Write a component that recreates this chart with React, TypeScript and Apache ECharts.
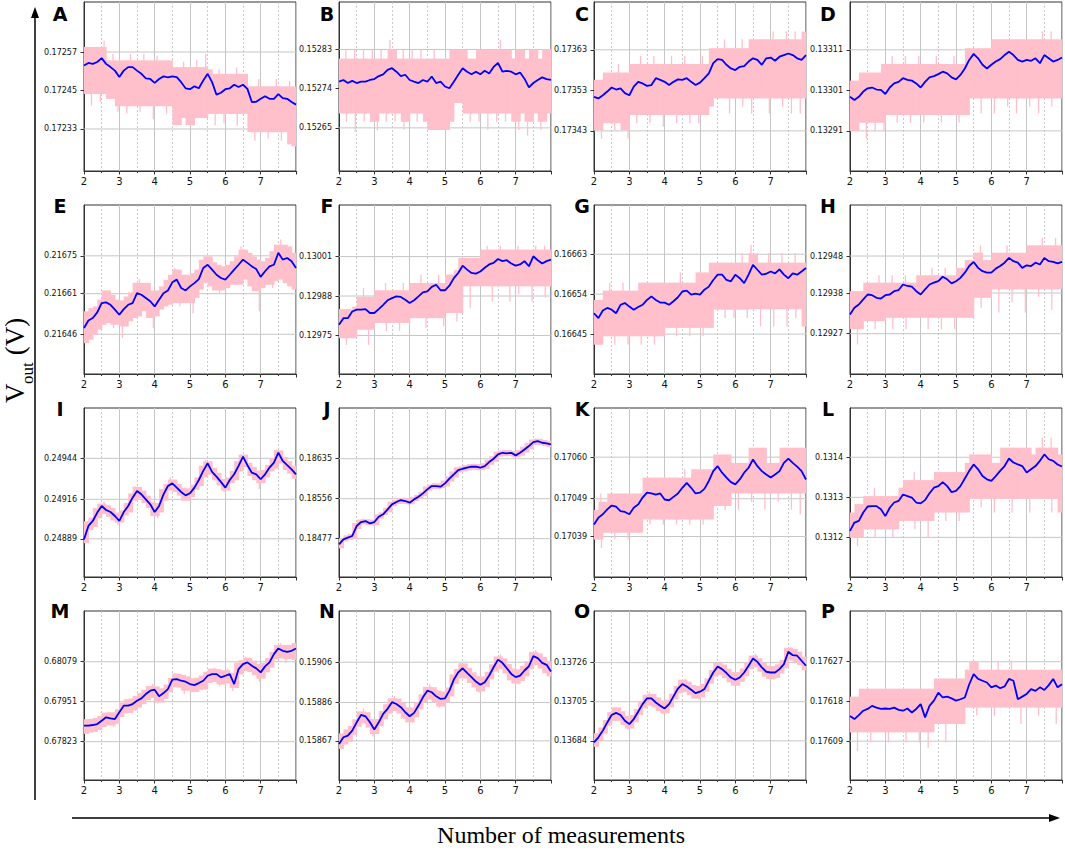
import React, { useEffect, useRef } from "react";
import * as echarts from "echarts";

const X = [2,2.125,2.25,2.375,2.5,2.625,2.75,2.875,3,3.125,3.25,3.375,3.5,3.625,3.75,3.875,4,4.125,4.25,4.375,4.5,4.625,4.75,4.875,5,5.125,5.25,5.375,5.5,5.625,5.75,5.875,6,6.125,6.25,6.375,6.5,6.625,6.75,6.875,7,7.125,7.25,7.375,7.5,7.625,7.75,7.875,8];
const X_TICK_LABELS = ["2", "3", "4", "5", "6", "7"];

const A_TICKS = [0.17233, 0.17245, 0.17257];
const A_LABELS = ["0.17233", "0.17245", "0.17257"];
const A_RANGE = [0.172199, 0.172726];
const A_BLUE = [0.172528,0.172536,0.172533,0.172539,0.172551,0.172533,0.172523,0.172512,0.172492,0.172512,0.172523,0.172523,0.172512,0.172502,0.172488,0.172486,0.172474,0.172486,0.172494,0.172491,0.172494,0.172492,0.172476,0.172457,0.172454,0.172463,0.172457,0.172481,0.172502,0.172476,0.172437,0.172443,0.172454,0.172457,0.172468,0.172461,0.172468,0.172455,0.172414,0.172415,0.172424,0.172432,0.172424,0.172424,0.172439,0.172426,0.172424,0.172414,0.172406];
const A_HI = [0.172586,0.172586,0.172586,0.172586,0.172606,0.172544,0.172564,0.172544,0.172544,0.172544,0.172564,0.172544,0.172544,0.172564,0.172544,0.172544,0.172558,0.172544,0.172544,0.172544,0.172523,0.172523,0.17254,0.172523,0.172523,0.172546,0.172523,0.172564,0.172516,0.172502,0.172516,0.172502,0.172502,0.172502,0.172522,0.172502,0.172502,0.172463,0.172463,0.172486,0.172463,0.172463,0.172463,0.172486,0.172463,0.172463,0.17248,0.172463];
const A_LO = [0.172439,0.172403,0.172439,0.172414,0.172439,0.172424,0.172424,0.172384,0.172401,0.172378,0.172401,0.172401,0.172384,0.172401,0.172401,0.17236,0.172401,0.172401,0.172378,0.172401,0.172342,0.172342,0.172364,0.172342,0.17234,0.172364,0.172364,0.172364,0.172377,0.172342,0.172377,0.172348,0.172377,0.172377,0.17234,0.172377,0.172377,0.17232,0.172294,0.17232,0.17232,0.1723,0.17232,0.17232,0.172294,0.17232,0.172282,0.172276];

const B_TICKS = [0.15265, 0.15274, 0.15283];
const B_LABELS = ["0.15265", "0.15274", "0.15283"];
const B_RANGE = [0.152551, 0.152939];
const B_BLUE = [0.152756,0.15276,0.152753,0.152758,0.152753,0.152756,0.152756,0.15276,0.152762,0.152769,0.152773,0.152783,0.152787,0.152779,0.152769,0.152772,0.15276,0.152756,0.152753,0.15276,0.152756,0.152768,0.152753,0.152756,0.152745,0.152741,0.152756,0.152772,0.152787,0.152779,0.152773,0.152779,0.152773,0.152781,0.152775,0.15279,0.152799,0.152779,0.152781,0.152779,0.152773,0.152777,0.152763,0.152743,0.152753,0.15276,0.152766,0.152762,0.15276];
const B_HI = [0.152809,0.15283,0.152809,0.15283,0.152809,0.15283,0.152809,0.15283,0.152809,0.15283,0.152809,0.152852,0.15283,0.152809,0.15283,0.152809,0.15283,0.152809,0.15283,0.152809,0.152809,0.15283,0.152809,0.152809,0.152809,0.15283,0.15283,0.15283,0.15283,0.152809,0.152809,0.15283,0.15283,0.15283,0.15283,0.15283,0.152852,0.15283,0.15283,0.152809,0.15283,0.15283,0.152809,0.15283,0.15283,0.152809,0.15283,0.15283];
const B_LO = [0.152683,0.152664,0.152683,0.152641,0.152683,0.152664,0.152683,0.152664,0.152645,0.152683,0.152664,0.152683,0.152664,0.152683,0.152645,0.152664,0.152683,0.152664,0.152683,0.152664,0.152645,0.152645,0.152645,0.152645,0.152645,0.152664,0.152707,0.152707,0.152683,0.152664,0.152683,0.152664,0.152683,0.152645,0.152683,0.152664,0.152683,0.152664,0.152683,0.152664,0.152645,0.152683,0.152632,0.152664,0.152683,0.152645,0.152664,0.152683];

const C_TICKS = [0.17343, 0.17353, 0.17363];
const C_LABELS = ["0.17343", "0.17353", "0.17363"];
const C_RANGE = [0.173331, 0.173748];
const C_BLUE = [0.173514,0.17351,0.173518,0.173527,0.173537,0.173532,0.173535,0.173523,0.173518,0.173539,0.173551,0.173547,0.173541,0.173543,0.17356,0.173556,0.173551,0.173543,0.173551,0.173557,0.173556,0.17356,0.173551,0.173543,0.173549,0.17356,0.173572,0.173597,0.173607,0.173605,0.173593,0.173584,0.17358,0.173588,0.17359,0.173601,0.173609,0.173605,0.173593,0.173609,0.173611,0.173603,0.173613,0.173617,0.173621,0.173617,0.173609,0.173605,0.173617];
const C_HI = [0.173556,0.173556,0.173574,0.173574,0.173574,0.173595,0.173574,0.173574,0.173595,0.173595,0.173615,0.173595,0.173595,0.173615,0.173595,0.173595,0.173595,0.173615,0.173595,0.173595,0.173615,0.173595,0.173595,0.173595,0.173615,0.173595,0.173634,0.173634,0.173634,0.173656,0.173634,0.173634,0.173634,0.173656,0.173634,0.173656,0.173656,0.173656,0.173656,0.173656,0.173675,0.173656,0.173656,0.173675,0.173656,0.173675,0.173656,0.173675];
const C_LO = [0.173432,0.173411,0.173449,0.173449,0.173432,0.173449,0.173432,0.173411,0.173469,0.173449,0.173469,0.173469,0.173449,0.173469,0.173469,0.17344,0.173469,0.173469,0.173449,0.173469,0.173469,0.173449,0.173469,0.173449,0.173469,0.173469,0.17349,0.17351,0.17351,0.17351,0.173473,0.17351,0.17351,0.17349,0.17351,0.173473,0.17351,0.17351,0.17351,0.173473,0.17351,0.17351,0.17349,0.17351,0.173473,0.17351,0.173473,0.17351];

const D_TICKS = [0.13291, 0.13301, 0.13311];
const D_LABELS = ["0.13291", "0.13301", "0.13311"];
const D_RANGE = [0.132811, 0.133228];
const D_BLUE = [0.132994,0.132986,0.132994,0.133007,0.133015,0.133017,0.133012,0.133011,0.133001,0.133017,0.133027,0.133031,0.13304,0.133036,0.133034,0.133027,0.133017,0.133031,0.133042,0.133045,0.13305,0.133056,0.133052,0.133042,0.133037,0.133048,0.133064,0.133085,0.1331,0.133089,0.133073,0.133064,0.133073,0.133081,0.133087,0.133097,0.133105,0.133097,0.133085,0.133081,0.133085,0.133083,0.133089,0.133077,0.133097,0.133089,0.133081,0.133085,0.133091];
const D_HI = [0.133034,0.133034,0.133054,0.133054,0.133054,0.133054,0.133054,0.133075,0.133075,0.133095,0.133075,0.133075,0.133095,0.133075,0.133075,0.133095,0.133075,0.133075,0.133075,0.133095,0.133075,0.133075,0.133075,0.133095,0.133075,0.133075,0.133114,0.133114,0.133114,0.133114,0.133114,0.133114,0.133136,0.133136,0.133136,0.133136,0.133136,0.133136,0.133136,0.133136,0.133136,0.133136,0.133136,0.133155,0.133136,0.133155,0.133136,0.133136];
const D_LO = [0.13291,0.13291,0.13293,0.132891,0.13293,0.13291,0.13293,0.13291,0.132949,0.132949,0.13293,0.132949,0.132949,0.13293,0.132949,0.132949,0.13293,0.132949,0.132949,0.132949,0.13293,0.132949,0.132949,0.132949,0.13293,0.132949,0.132949,0.13299,0.13299,0.132953,0.13299,0.13299,0.132953,0.13299,0.13299,0.13297,0.13299,0.132953,0.13299,0.13299,0.13297,0.13299,0.132953,0.13299,0.13299,0.13297,0.13299,0.13299];

const E_TICKS = [0.21646, 0.21661, 0.21675];
const E_LABELS = ["0.21646", "0.21661", "0.21675"];
const E_RANGE = [0.216313, 0.216938];
const E_BLUE = [0.216483,0.216511,0.21652,0.216541,0.216575,0.216578,0.216569,0.216551,0.216532,0.216553,0.216569,0.216575,0.216612,0.216606,0.216594,0.216582,0.216563,0.216588,0.216612,0.216622,0.216652,0.216662,0.216631,0.216622,0.216637,0.216649,0.216664,0.216705,0.216717,0.216699,0.21668,0.216668,0.216662,0.21668,0.216699,0.216717,0.216736,0.216724,0.216711,0.216701,0.216672,0.216693,0.216711,0.216717,0.216761,0.216736,0.216742,0.21673,0.216705];
const E_HI = [0.216545,0.216557,0.216563,0.216588,0.216622,0.216622,0.216606,0.216588,0.216585,0.2166,0.216615,0.21665,0.216664,0.21665,0.21665,0.216622,0.216622,0.216637,0.216661,0.21668,0.216705,0.216699,0.21668,0.21668,0.216686,0.216699,0.216736,0.216748,0.216748,0.216726,0.216717,0.216711,0.216717,0.21673,0.216748,0.216785,0.216773,0.216761,0.216748,0.216736,0.21673,0.216742,0.216767,0.216791,0.21681,0.216791,0.216785,0.216761];
const E_LO = [0.216427,0.21644,0.216458,0.216477,0.216495,0.216501,0.216483,0.216495,0.216446,0.216489,0.216508,0.21652,0.216526,0.216545,0.21652,0.216483,0.216526,0.216551,0.216563,0.216569,0.216575,0.216563,0.216575,0.216575,0.216538,0.216594,0.216625,0.216649,0.216637,0.216622,0.216612,0.216622,0.216631,0.216643,0.216643,0.216643,0.216662,0.216637,0.216619,0.216545,0.216631,0.216643,0.216631,0.216656,0.216662,0.216649,0.216637,0.216625];

const F_TICKS = [0.12975, 0.12988, 0.13001];
const F_LABELS = ["0.12975", "0.12988", "0.13001"];
const F_RANGE = [0.129623, 0.13018];
const F_BLUE = [0.129785,0.129807,0.129807,0.129829,0.129835,0.129835,0.129837,0.129824,0.129824,0.129837,0.129851,0.129866,0.129873,0.129879,0.129877,0.129868,0.129857,0.129866,0.129879,0.129892,0.129895,0.12991,0.129917,0.129899,0.129899,0.129914,0.129939,0.129956,0.12998,0.129967,0.129956,0.129954,0.129961,0.129973,0.129984,0.129989,0.130002,0.129995,0.129998,0.129987,0.12998,0.129984,0.129995,0.129978,0.130011,0.129998,0.129987,0.129995,0.13];
const F_HI = [0.129837,0.129837,0.129837,0.129845,0.129877,0.129906,0.129877,0.129877,0.129899,0.129899,0.129923,0.129899,0.129899,0.129899,0.129923,0.129899,0.129923,0.129923,0.129951,0.129923,0.129923,0.129923,0.129951,0.129923,0.129951,0.129951,0.129965,0.130006,0.130006,0.130006,0.130006,0.130006,0.130033,0.130046,0.130033,0.130033,0.130046,0.130033,0.130033,0.130033,0.130046,0.130033,0.130033,0.130033,0.130046,0.130033,0.130046,0.130033];
const F_LO = [0.129741,0.129719,0.129741,0.129741,0.129769,0.129769,0.129719,0.129769,0.129791,0.129791,0.129765,0.129791,0.129791,0.129765,0.129791,0.129791,0.129807,0.129807,0.129807,0.129775,0.129807,0.129807,0.129807,0.12978,0.129824,0.129824,0.129795,0.129824,0.129912,0.12984,0.129912,0.129912,0.129912,0.129912,0.129862,0.129912,0.129912,0.129912,0.129862,0.129912,0.129885,0.129912,0.129912,0.129862,0.129912,0.129912,0.129875,0.129912];

const G_TICKS = [0.16645, 0.16654, 0.16663];
const G_LABELS = ["0.16645", "0.16654", "0.16663"];
const G_RANGE = [0.16636, 0.166741];
const G_BLUE = [0.166497,0.166486,0.166503,0.166509,0.166505,0.166497,0.166516,0.16652,0.166512,0.166505,0.166511,0.166516,0.166527,0.166535,0.166527,0.166521,0.166521,0.166516,0.166524,0.166533,0.166546,0.166548,0.166539,0.166541,0.166539,0.16655,0.166557,0.166572,0.166584,0.166584,0.166572,0.166569,0.166584,0.166576,0.166565,0.166584,0.166606,0.166595,0.166584,0.166586,0.166591,0.166587,0.166596,0.166584,0.166576,0.166587,0.166584,0.166591,0.166599];
const G_HI = [0.166527,0.166527,0.166548,0.166566,0.166548,0.166548,0.166566,0.166548,0.166548,0.166548,0.166566,0.166566,0.166566,0.166566,0.166566,0.166566,0.166566,0.166566,0.166566,0.166589,0.166566,0.166566,0.166566,0.166589,0.166589,0.166589,0.166611,0.166611,0.166611,0.166611,0.166611,0.166611,0.166611,0.166632,0.166611,0.166651,0.166632,0.166611,0.166611,0.166632,0.166611,0.166611,0.166632,0.166611,0.166611,0.166632,0.166611,0.166611];
const G_LO = [0.166426,0.166426,0.166445,0.166445,0.166426,0.166445,0.166445,0.166426,0.166445,0.166445,0.166426,0.166445,0.166445,0.166426,0.166445,0.166445,0.166464,0.166464,0.166445,0.166464,0.166464,0.166445,0.166464,0.166464,0.166445,0.166464,0.166464,0.166505,0.166505,0.166486,0.166505,0.166486,0.166505,0.166505,0.166486,0.166506,0.166506,0.166467,0.166506,0.166506,0.166467,0.166506,0.166506,0.166467,0.166506,0.166486,0.166506,0.166467];

const H_TICKS = [0.12927, 0.12938, 0.12948];
const H_LABELS = ["0.12927", "0.12938", "0.12948"];
const H_RANGE = [0.129161, 0.129618];
const H_BLUE = [0.129322,0.12934,0.129349,0.129363,0.129376,0.129374,0.129367,0.129365,0.129374,0.129376,0.129385,0.129388,0.129403,0.129399,0.129397,0.129385,0.129376,0.12939,0.129403,0.129408,0.129412,0.129424,0.129417,0.129406,0.129412,0.129421,0.129435,0.129453,0.129464,0.129448,0.129439,0.129435,0.129435,0.129446,0.129453,0.129462,0.129475,0.129466,0.129462,0.129448,0.129455,0.129453,0.129462,0.129457,0.129475,0.129466,0.129464,0.12946,0.129464];
const H_HI = [0.129385,0.129385,0.129385,0.129408,0.129408,0.129408,0.129428,0.129408,0.129408,0.129428,0.129408,0.129408,0.129428,0.129408,0.129408,0.129428,0.129428,0.129428,0.129448,0.129428,0.129428,0.129448,0.129428,0.129428,0.129448,0.129448,0.129469,0.129469,0.129489,0.129509,0.129469,0.129469,0.129489,0.129489,0.129489,0.129509,0.129489,0.129489,0.129489,0.129489,0.129509,0.129509,0.129509,0.129529,0.129509,0.129509,0.129529,0.129509];
const H_LO = [0.129282,0.129241,0.129282,0.129304,0.129304,0.129282,0.129304,0.129304,0.129313,0.129282,0.129313,0.129313,0.129282,0.129313,0.129313,0.129313,0.129313,0.129282,0.129313,0.129313,0.129282,0.129313,0.129313,0.129282,0.129313,0.129313,0.129313,0.129313,0.129367,0.12934,0.129367,0.129367,0.12939,0.129327,0.12939,0.12939,0.129355,0.12939,0.12939,0.129327,0.12939,0.12939,0.12937,0.12939,0.12939,0.129335,0.12939,0.12939];

const I_TICKS = [0.24889, 0.24916, 0.24944];
const I_LABELS = ["0.24889", "0.24916", "0.24944"];
const I_RANGE = [0.248629, 0.249784];
const I_BLUE = [0.248886,0.248978,0.249012,0.249069,0.249114,0.249087,0.249073,0.249046,0.249012,0.249073,0.249114,0.249171,0.249217,0.249194,0.24916,0.249126,0.249073,0.249114,0.249194,0.249251,0.249269,0.24924,0.24921,0.249187,0.249201,0.24924,0.249292,0.249354,0.249406,0.249347,0.249315,0.249279,0.24924,0.249292,0.249331,0.249388,0.249452,0.249393,0.249342,0.249331,0.249297,0.249331,0.249377,0.249411,0.249479,0.249422,0.249393,0.249365,0.249331];
const I_HI = [0.24901,0.249035,0.2491,0.24913,0.249145,0.24912,0.2491,0.24907,0.249085,0.249135,0.2492,0.24925,0.249245,0.24922,0.249185,0.24914,0.249135,0.24923,0.249265,0.24931,0.249295,0.249265,0.24924,0.249235,0.24926,0.24931,0.24939,0.24943,0.24942,0.249375,0.24934,0.2493,0.24931,0.249355,0.24942,0.24947,0.249465,0.24941,0.24938,0.249355,0.24936,0.249395,0.24944,0.2495,0.249495,0.24945,0.24942,0.24939];
const I_LO = [0.24886,0.24895,0.24897,0.24903,0.24906,0.24904,0.249015,0.248985,0.249,0.24905,0.24907,0.24915,0.249165,0.249135,0.2491,0.249045,0.24903,0.24907,0.24915,0.24922,0.24921,0.249185,0.24915,0.24915,0.249175,0.249225,0.24925,0.24931,0.24933,0.24929,0.249255,0.24921,0.24922,0.24927,0.24929,0.24935,0.24938,0.24932,0.24929,0.24923,0.24927,0.24931,0.24935,0.24937,0.249405,0.24936,0.249335,0.2493];

const J_TICKS = [0.18477, 0.18556, 0.18635];
const J_LABELS = ["0.18477", "0.18556", "0.18635"];
const J_RANGE = [0.184012, 0.187353];
const J_BLUE = [0.184658,0.184757,0.18479,0.184823,0.18502,0.185099,0.185119,0.185073,0.185099,0.185204,0.185251,0.185349,0.185448,0.185494,0.185534,0.185514,0.185481,0.185547,0.185599,0.185665,0.185744,0.18581,0.18581,0.185797,0.185863,0.185955,0.186041,0.186126,0.186152,0.186172,0.186192,0.186192,0.186172,0.186205,0.186284,0.18635,0.186436,0.186468,0.186455,0.186468,0.186416,0.186468,0.186534,0.1866,0.186679,0.186699,0.186666,0.186653,0.186633];
const J_HI = [0.18477,0.184835,0.184865,0.18508,0.18515,0.18517,0.185155,0.185145,0.18525,0.18529,0.18538,0.1855,0.18553,0.185575,0.185585,0.18556,0.185595,0.185635,0.185695,0.1858,0.18584,0.18587,0.185865,0.18592,0.186,0.1861,0.18618,0.1862,0.186225,0.186245,0.186255,0.186245,0.18626,0.18633,0.1864,0.18649,0.186515,0.186525,0.186525,0.186505,0.18652,0.18659,0.18666,0.18673,0.18675,0.186745,0.18672,0.186705];
const J_LO = [0.18458,0.184715,0.184745,0.18477,0.18496,0.18505,0.185035,0.185025,0.18504,0.185165,0.18524,0.18529,0.18541,0.185455,0.18546,0.18544,0.18545,0.18551,0.18557,0.18561,0.185715,0.18575,0.18574,0.18577,0.1858,0.1859,0.18598,0.18608,0.1861,0.18612,0.18613,0.18612,0.186125,0.18615,0.18623,0.18629,0.18639,0.1864,0.1864,0.18638,0.18638,0.18641,0.18647,0.18654,0.186625,0.18662,0.1866,0.18658];

const K_TICKS = [0.17039, 0.17049, 0.1706];
const K_LABELS = ["0.17039", "0.17049", "0.17060"];
const K_RANGE = [0.170283, 0.17073];
const K_BLUE = [0.170422,0.17044,0.170449,0.170462,0.170472,0.170469,0.170457,0.170455,0.170449,0.170466,0.170475,0.170493,0.170506,0.170504,0.170501,0.170504,0.170488,0.170486,0.170495,0.170504,0.170519,0.170532,0.170519,0.170504,0.170506,0.170516,0.170537,0.170563,0.170576,0.170559,0.170546,0.170534,0.170528,0.170541,0.170559,0.170572,0.170594,0.170576,0.170563,0.170554,0.170546,0.170554,0.170563,0.170585,0.170596,0.170585,0.170575,0.170563,0.170541];
const K_HI = [0.17046,0.170504,0.170482,0.170504,0.170504,0.170504,0.170504,0.170504,0.170504,0.170504,0.170504,0.170546,0.170546,0.170546,0.170546,0.170546,0.170546,0.170546,0.170546,0.170546,0.170568,0.170546,0.170568,0.170568,0.170568,0.170568,0.170568,0.170607,0.170607,0.170607,0.170607,0.170585,0.170585,0.170585,0.170585,0.170625,0.170625,0.170625,0.170625,0.170585,0.170585,0.170585,0.170625,0.170625,0.170625,0.170625,0.170625,0.170625];
const K_LO = [0.170382,0.17036,0.1704,0.1704,0.170382,0.1704,0.1704,0.170382,0.1704,0.1704,0.1704,0.170435,0.170422,0.170435,0.170435,0.170422,0.170435,0.170435,0.170422,0.170435,0.170435,0.170422,0.170435,0.170435,0.170422,0.170435,0.170435,0.170471,0.170471,0.17046,0.170471,0.170504,0.170461,0.170504,0.170504,0.170482,0.170504,0.170504,0.170461,0.170504,0.170504,0.170482,0.170504,0.170504,0.170461,0.170504,0.170448,0.170504];

const L_TICKS = [0.1312, 0.1313, 0.1314];
const L_LABELS = ["0.1312", "0.1313", "0.1314"];
const L_RANGE = [0.131101, 0.131523];
const L_BLUE = [0.131216,0.131237,0.131241,0.131262,0.131277,0.131278,0.131278,0.13127,0.131253,0.131274,0.131287,0.131291,0.131307,0.131303,0.131299,0.131287,0.131285,0.131293,0.13131,0.131324,0.131328,0.131338,0.131328,0.131313,0.131316,0.131328,0.131347,0.131366,0.131382,0.13137,0.131353,0.131345,0.131341,0.131353,0.131366,0.131378,0.131397,0.131387,0.131382,0.131378,0.131362,0.13137,0.131378,0.131391,0.131407,0.131395,0.131391,0.131382,0.131377];
const L_HI = [0.131262,0.131283,0.131283,0.131303,0.131303,0.131324,0.131303,0.131303,0.131303,0.131303,0.131303,0.131324,0.131343,0.131343,0.131363,0.131343,0.131343,0.131343,0.131343,0.131363,0.131363,0.131363,0.131363,0.131363,0.131363,0.131363,0.131386,0.131407,0.131407,0.131407,0.131407,0.131407,0.131386,0.131386,0.131424,0.131424,0.131424,0.131424,0.131424,0.131424,0.131424,0.131407,0.131424,0.131449,0.131424,0.131449,0.131424,0.131407];
const L_LO = [0.131199,0.131178,0.131199,0.13122,0.13122,0.131199,0.13122,0.13122,0.13122,0.131199,0.13122,0.131241,0.131241,0.131241,0.13122,0.131241,0.131241,0.131199,0.131241,0.131262,0.131262,0.131241,0.131262,0.131262,0.131241,0.131262,0.131262,0.131296,0.131296,0.131275,0.131296,0.131296,0.131262,0.131296,0.131296,0.131296,0.131262,0.131296,0.131296,0.131296,0.131262,0.131296,0.131296,0.131296,0.131296,0.131262,0.131296,0.131262];

const M_TICKS = [0.67823, 0.67951, 0.68079];
const M_LABELS = ["0.67823", "0.67951", "0.68079"];
const M_RANGE = [0.677001, 0.682416];
const M_BLUE = [0.678742,0.678742,0.678763,0.678795,0.678902,0.679009,0.678977,0.678955,0.679169,0.679382,0.679382,0.679435,0.679542,0.679617,0.679755,0.679862,0.679894,0.679681,0.679787,0.679915,0.680214,0.680235,0.680182,0.68015,0.680075,0.680043,0.680107,0.680182,0.680342,0.680395,0.680395,0.680289,0.680342,0.680395,0.680075,0.680555,0.680715,0.680769,0.680662,0.680577,0.680449,0.680641,0.680769,0.681035,0.681217,0.681142,0.68111,0.681142,0.681217];
const M_HI = [0.67895,0.67896,0.67899,0.67905,0.67916,0.6792,0.67917,0.67927,0.67948,0.67959,0.67961,0.6797,0.67979,0.67989,0.68001,0.68008,0.68,0.67994,0.68006,0.68027,0.68043,0.68041,0.68037,0.68032,0.68026,0.68028,0.68035,0.68047,0.68057,0.6806,0.68055,0.68052,0.68057,0.68044,0.68076,0.68084,0.68095,0.68092,0.68082,0.68072,0.68075,0.68091,0.68111,0.68133,0.68139,0.68133,0.68133,0.68139];
const M_LO = [0.67848,0.67852,0.67854,0.6786,0.6787,0.67875,0.6787,0.6788,0.67902,0.67913,0.67915,0.67923,0.67932,0.67943,0.67956,0.67963,0.67945,0.67948,0.6796,0.67981,0.67997,0.67996,0.67975,0.67986,0.67981,0.67982,0.67989,0.6799,0.68011,0.68014,0.68,0.68006,0.6801,0.67985,0.67995,0.68038,0.68049,0.68046,0.68036,0.68015,0.68025,0.68045,0.6806,0.68087,0.6809,0.68075,0.68087,0.68085];

const N_TICKS = [0.15867, 0.15886, 0.15906];
const N_LABELS = ["0.15867", "0.15886", "0.15906"];
const N_RANGE = [0.158476, 0.159314];
const N_BLUE = [0.158655,0.158688,0.158696,0.158721,0.158762,0.158799,0.158792,0.158762,0.158726,0.158762,0.158804,0.158829,0.158862,0.158853,0.158837,0.158812,0.158792,0.158809,0.158845,0.158886,0.158919,0.158911,0.158891,0.158878,0.158881,0.158919,0.158974,0.15901,0.15903,0.159007,0.158986,0.158964,0.158948,0.158961,0.158994,0.159035,0.159073,0.159057,0.15903,0.159002,0.158986,0.158994,0.159019,0.15904,0.15909,0.15908,0.159057,0.159047,0.159014];
const N_HI = [0.158707,0.158727,0.158744,0.158777,0.158816,0.158831,0.158812,0.158779,0.158779,0.158818,0.158852,0.158881,0.158893,0.15888,0.15886,0.158837,0.158836,0.158862,0.158901,0.158938,0.15895,0.158936,0.15892,0.158915,0.158935,0.159,0.159027,0.159055,0.159054,0.159032,0.15901,0.158991,0.15899,0.159013,0.15905,0.159089,0.1591,0.159079,0.159051,0.159029,0.159025,0.159042,0.159065,0.15911,0.15912,0.159104,0.159087,0.159066];
const N_LO = [0.15863,0.158652,0.158665,0.1587,0.15874,0.158756,0.158735,0.15869,0.158704,0.158743,0.158777,0.158806,0.158818,0.158805,0.15878,0.158762,0.158761,0.158787,0.158826,0.158863,0.158875,0.158861,0.158835,0.15884,0.15886,0.15889,0.158952,0.15898,0.158979,0.158957,0.158935,0.15891,0.158915,0.158938,0.158975,0.159014,0.159025,0.159004,0.15897,0.158954,0.15895,0.158967,0.15899,0.159025,0.159045,0.159029,0.159005,0.15899];

const O_TICKS = [0.13684, 0.13705, 0.13726];
const O_LABELS = ["0.13684", "0.13705", "0.13726"];
const O_RANGE = [0.13663, 0.137537];
const O_BLUE = [0.136832,0.136859,0.136895,0.136939,0.136979,0.13699,0.136979,0.136948,0.13693,0.136957,0.136996,0.137037,0.137068,0.137068,0.137046,0.137029,0.137014,0.137037,0.137079,0.137121,0.137145,0.137132,0.137114,0.137096,0.137104,0.137118,0.137163,0.137207,0.137239,0.137225,0.137204,0.13718,0.137168,0.13718,0.137207,0.137243,0.137282,0.137264,0.137234,0.137211,0.137207,0.137207,0.137225,0.137252,0.137318,0.1373,0.137297,0.13727,0.137243];
const O_HI = [0.136881,0.136912,0.136952,0.136994,0.13702,0.13702,0.136999,0.136974,0.136979,0.137012,0.137052,0.137088,0.137103,0.137092,0.137073,0.137057,0.137061,0.137093,0.137135,0.137168,0.137174,0.137158,0.13714,0.137135,0.137146,0.137176,0.13722,0.137258,0.137267,0.13725,0.137227,0.137209,0.137209,0.137229,0.13726,0.137298,0.137308,0.137284,0.137258,0.137244,0.137242,0.137251,0.137274,0.13734,0.137344,0.137334,0.137319,0.137292];
const O_LO = [0.136808,0.136839,0.136879,0.136921,0.136947,0.136947,0.136926,0.136901,0.136906,0.136939,0.136979,0.137015,0.13703,0.137019,0.137,0.136984,0.136988,0.13702,0.137062,0.137095,0.137101,0.137085,0.137067,0.137062,0.137073,0.137103,0.137147,0.137185,0.137194,0.137177,0.137154,0.137136,0.137136,0.137156,0.137187,0.137225,0.137235,0.137211,0.137185,0.137171,0.137169,0.137178,0.137201,0.13723,0.137271,0.137261,0.137246,0.137219];

const P_TICKS = [0.17609, 0.17618, 0.17627];
const P_LABELS = ["0.17609", "0.17618", "0.17627"];
const P_RANGE = [0.176002, 0.176385];
const P_BLUE = [0.176147,0.17614,0.176149,0.176159,0.176163,0.17617,0.176166,0.176163,0.176164,0.176163,0.176166,0.176161,0.176159,0.176164,0.176155,0.176163,0.176174,0.176144,0.17617,0.176182,0.1762,0.176189,0.176191,0.176187,0.176182,0.176185,0.176189,0.176219,0.176242,0.176231,0.176227,0.176223,0.176212,0.176216,0.17621,0.176214,0.176231,0.176227,0.176185,0.176191,0.176197,0.176208,0.176204,0.176212,0.176206,0.176217,0.176231,0.176212,0.176219];
const P_HI = [0.176191,0.176191,0.176209,0.176209,0.176209,0.176209,0.176209,0.176209,0.176209,0.176209,0.176209,0.176209,0.176209,0.176209,0.176209,0.176209,0.176209,0.176209,0.176209,0.176232,0.176232,0.176232,0.176232,0.176232,0.176232,0.176232,0.176252,0.176272,0.176272,0.176252,0.176252,0.176252,0.176252,0.176272,0.176252,0.176252,0.176272,0.176252,0.176252,0.176252,0.176252,0.176252,0.176252,0.176252,0.176252,0.176252,0.176252,0.176252];
const P_LO = [0.17611,0.176068,0.17611,0.17611,0.176087,0.17611,0.17611,0.17611,0.176087,0.17611,0.17611,0.17611,0.176087,0.17611,0.17611,0.176087,0.17611,0.176075,0.17611,0.176129,0.176129,0.176087,0.176129,0.176129,0.176129,0.176129,0.176166,0.176166,0.176148,0.176166,0.176166,0.176166,0.176148,0.176166,0.176166,0.176166,0.176166,0.176166,0.176129,0.176166,0.176166,0.176166,0.176148,0.176166,0.176166,0.176166,0.176129,0.176166];

const PANELS = [
  { name: "A", blue: A_BLUE, hi: A_HI, lo: A_LO, ticks: A_TICKS, labels: A_LABELS, range: A_RANGE },
  { name: "B", blue: B_BLUE, hi: B_HI, lo: B_LO, ticks: B_TICKS, labels: B_LABELS, range: B_RANGE },
  { name: "C", blue: C_BLUE, hi: C_HI, lo: C_LO, ticks: C_TICKS, labels: C_LABELS, range: C_RANGE },
  { name: "D", blue: D_BLUE, hi: D_HI, lo: D_LO, ticks: D_TICKS, labels: D_LABELS, range: D_RANGE },
  { name: "E", blue: E_BLUE, hi: E_HI, lo: E_LO, ticks: E_TICKS, labels: E_LABELS, range: E_RANGE },
  { name: "F", blue: F_BLUE, hi: F_HI, lo: F_LO, ticks: F_TICKS, labels: F_LABELS, range: F_RANGE },
  { name: "G", blue: G_BLUE, hi: G_HI, lo: G_LO, ticks: G_TICKS, labels: G_LABELS, range: G_RANGE },
  { name: "H", blue: H_BLUE, hi: H_HI, lo: H_LO, ticks: H_TICKS, labels: H_LABELS, range: H_RANGE },
  { name: "I", blue: I_BLUE, hi: I_HI, lo: I_LO, ticks: I_TICKS, labels: I_LABELS, range: I_RANGE },
  { name: "J", blue: J_BLUE, hi: J_HI, lo: J_LO, ticks: J_TICKS, labels: J_LABELS, range: J_RANGE },
  { name: "K", blue: K_BLUE, hi: K_HI, lo: K_LO, ticks: K_TICKS, labels: K_LABELS, range: K_RANGE },
  { name: "L", blue: L_BLUE, hi: L_HI, lo: L_LO, ticks: L_TICKS, labels: L_LABELS, range: L_RANGE },
  { name: "M", blue: M_BLUE, hi: M_HI, lo: M_LO, ticks: M_TICKS, labels: M_LABELS, range: M_RANGE },
  { name: "N", blue: N_BLUE, hi: N_HI, lo: N_LO, ticks: N_TICKS, labels: N_LABELS, range: N_RANGE },
  { name: "O", blue: O_BLUE, hi: O_HI, lo: O_LO, ticks: O_TICKS, labels: O_LABELS, range: O_RANGE },
  { name: "P", blue: P_BLUE, hi: P_HI, lo: P_LO, ticks: P_TICKS, labels: P_LABELS, range: P_RANGE },
];

const COL_LEFT = [84, 339, 594, 850];
const ROW_TOP = [2, 205, 408, 611];
const PANEL_W = 212;
const PANEL_H = 169;
const LETTER_X = [60, 327, 582, 828];
const LETTER_Y = [14, 206, 409, 611];

const AXIS_COLOR = "#333333";
const GRID_COLOR = "#c6c6c6";
const PINK = "#ffc0cb";
const SANS = "DejaVu Sans";
const SERIF = "Liberation Serif";

// Split each pink interval into a body (bounded by its neighbours) and a thin spike
// where the interval pokes out beyond both neighbours.
function pinkItems(hi: number[], lo: number[]) {
  const n = hi.length;
  return hi.map((h, k) => {
    const l = lo[k];
    const hPrev = k > 0 ? hi[k - 1] : h;
    const hNext = k < n - 1 ? hi[k + 1] : h;
    const lPrev = k > 0 ? lo[k - 1] : l;
    const lNext = k < n - 1 ? lo[k + 1] : l;
    const bodyHi = h > hPrev && h > hNext ? Math.max(hPrev, hNext) : h;
    const bodyLo = l < lPrev && l < lNext ? Math.min(lPrev, lNext) : l;
    return [X[k], X[k + 1], l, h, bodyLo, bodyHi];
  });
}

function buildOption() {
  const grid: any[] = [];
  const xAxis: any[] = [];
  const yAxis: any[] = [];
  const series: any[] = [];
  const graphic: any[] = [];

  PANELS.forEach((p, i) => {
    const r = Math.floor(i / 4);
    const c = i % 4;
    grid.push({
      left: COL_LEFT[c],
      top: ROW_TOP[r],
      width: PANEL_W,
      height: PANEL_H,
      show: true,
      borderColor: AXIS_COLOR,
      borderWidth: 1,
      backgroundColor: "transparent",
      containLabel: false,
      outerBoundsMode: "none",
    });
    xAxis.push({
      type: "value",
      gridIndex: i,
      min: 2,
      max: 8,
      interval: 1,
      axisLine: { show: true, onZero: false, lineStyle: { color: AXIS_COLOR, width: 1 } },
      axisTick: { show: true, length: 3.5, lineStyle: { color: AXIS_COLOR, width: 1 } },
      minorTick: { show: true, splitNumber: 2, length: 2, lineStyle: { color: AXIS_COLOR, width: 1 } },
      splitLine: { show: true, lineStyle: { color: GRID_COLOR, width: 1 } },
      minorSplitLine: { show: true, lineStyle: { color: "#bdbdbd", width: 0.8, type: [2, 2] } },
      axisLabel: {
        fontSize: 10,
        fontFamily: SANS,
        color: "#111",
        margin: 5,
        formatter: (v: number) => {
          const s = String(Math.round(v));
          return X_TICK_LABELS.indexOf(s) >= 0 ? s : "";
        },
      },
    });
    const ticks = p.ticks;
    const labels = p.labels;
    yAxis.push({
      type: "value",
      gridIndex: i,
      min: p.range[0],
      max: p.range[1],
      scale: true,
      axisLine: { show: true, onZero: false, lineStyle: { color: AXIS_COLOR, width: 1 } },
      axisTick: { show: true, length: 3.5, customValues: ticks, lineStyle: { color: AXIS_COLOR, width: 1 } },
      splitLine: { show: false },
      axisLabel: {
        customValues: ticks,
        fontSize: 8,
        fontFamily: SANS,
        color: "#111",
        margin: 7,
        formatter: (v: number) => {
          let best = 0;
          for (let k = 1; k < ticks.length; k++) {
            if (Math.abs(ticks[k] - v) < Math.abs(ticks[best] - v)) best = k;
          }
          return labels[best];
        },
      },
    });

    // horizontal grid lines at the y tick values
    series.push({
      type: "custom",
      xAxisIndex: i,
      yAxisIndex: i,
      z: 1,
      silent: true,
      clip: false,
      encode: { x: 0, y: 1 },
      data: ticks.map((t) => [2, t]),
      renderItem: (params: any, api: any) => {
        const cs = params.coordSys;
        const yy = api.coord([2, api.value(1)])[1];
        return {
          type: "line",
          shape: { x1: cs.x, y1: yy, x2: cs.x + cs.width, y2: yy },
          style: { stroke: GRID_COLOR, lineWidth: 1 },
        };
      },
    });

    series.push({
      type: "custom",
      xAxisIndex: i,
      yAxisIndex: i,
      z: 2,
      clip: true,
      silent: true,
      encode: { x: [0, 1], y: [2, 3] },
      data: pinkItems(p.hi, p.lo),
      renderItem: (params: any, api: any) => {
        const x0 = api.value(0);
        const x1 = api.value(1);
        const lo = api.value(2);
        const hi = api.value(3);
        const bLo = api.value(4);
        const bHi = api.value(5);
        const a = api.coord([x0, bHi]);
        const b = api.coord([x1, bLo]);
        const w = b[0] - a[0];
        const children: any[] = [
          {
            type: "rect",
            shape: { x: a[0], y: a[1], width: w + 0.6, height: b[1] - a[1] },
            style: { fill: PINK, stroke: null },
          },
        ];
        if (hi > bHi) {
          const t = api.coord([x0, hi])[1];
          children.push({
            type: "rect",
            shape: { x: a[0] + w * 0.4, y: t, width: 1.3, height: a[1] - t + 0.5 },
            style: { fill: PINK, stroke: null },
          });
        }
        if (lo < bLo) {
          const bt = api.coord([x0, lo])[1];
          children.push({
            type: "rect",
            shape: { x: a[0] + w * 0.55, y: b[1] - 0.5, width: 1.3, height: bt - b[1] + 0.5 },
            style: { fill: PINK, stroke: null },
          });
        }
        return { type: "group", children };
      },
    });
    series.push({
      type: "line",
      xAxisIndex: i,
      yAxisIndex: i,
      z: 3,
      silent: true,
      showSymbol: false,
      symbol: "none",
      lineStyle: { color: "#0000ff", width: 1.8 },
      data: p.blue.map((v, k) => [X[k], v]),
    });

    graphic.push({
      type: "text",
      x: LETTER_X[c],
      y: LETTER_Y[r],
      style: {
        text: p.name,
        fontSize: 19,
        fontWeight: "bold",
        fontFamily: SANS,
        fill: "#000",
        align: "center",
        verticalAlign: "middle",
      },
    });
  });

  // axis arrows
  graphic.push({ type: "line", shape: { x1: 35, y1: 800, x2: 35, y2: 16 }, style: { stroke: "#000", lineWidth: 1.5 } });
  graphic.push({ type: "polygon", shape: { points: [[31, 18], [39, 18], [35, 7]] }, style: { fill: "#000" } });
  graphic.push({ type: "line", shape: { x1: 72, y1: 818, x2: 1050, y2: 818 }, style: { stroke: "#000", lineWidth: 1.5 } });
  graphic.push({ type: "polygon", shape: { points: [[1049, 814], [1049, 822], [1060, 818]] }, style: { fill: "#000" } });

  // y title: V_out (V), reading upward
  graphic.push({
    type: "group",
    x: 24,
    y: 403,
    rotation: Math.PI / 2,
    children: [
      { type: "text", x: 0, y: -9, style: { text: "V", fontSize: 27, fontFamily: SERIF, fill: "#000", align: "left", verticalAlign: "middle" } },
      { type: "text", x: 19, y: 3, style: { text: "out", fontSize: 17, fontFamily: SERIF, fill: "#000", align: "left", verticalAlign: "middle" } },
      { type: "text", x: 41, y: -9, style: { text: " (V)", fontSize: 27, fontFamily: SERIF, fill: "#000", align: "left", verticalAlign: "middle" } },
    ],
  });

  graphic.push({
    type: "text",
    x: 561,
    y: 835,
    style: { text: "Number of measurements", fontSize: 24, fontFamily: SERIF, fill: "#000", align: "center", verticalAlign: "middle" },
  });

  return {
    animation: false,
    backgroundColor: "#ffffff",
    grid,
    xAxis,
    yAxis,
    series,
    graphic,
  };
}

export default function App() {
  const ref = useRef<HTMLDivElement>(null);
  useEffect(() => {
    if (!ref.current) return;
    const chart = echarts.init(ref.current, undefined, { renderer: "svg" });
    chart.setOption(buildOption() as any);
    return () => {
      chart.dispose();
    };
  }, []);
  return (
    <div
      ref={ref}
      style={{ position: "fixed", left: 0, top: 0, width: 1065, height: 853, background: "#fff" }}
    />
  );
}
